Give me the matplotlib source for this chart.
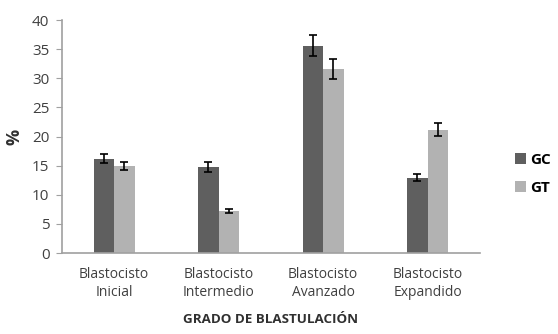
import matplotlib
matplotlib.use("Agg")
import matplotlib.pyplot as plt
import numpy as np

categories = ["Blastocisto\nInicial", "Blastocisto\nIntermedio", "Blastocisto\nAvanzado", "Blastocisto\nExpandido"]
gc_values = [16.2, 14.7, 35.6, 12.95]
gc_errors = [0.8, 0.85, 1.8, 0.6]
gt_values = [14.9, 7.2, 31.6, 21.2]
gt_errors = [0.7, 0.4, 1.65, 1.05]

plt.rcParams["font.family"] = ["Open Sans", "DejaVu Sans"]

fig = plt.figure(figsize=(5.58, 3.34), dpi=100)
ax = fig.add_axes([0.111, 0.2425, 0.749, 0.6975])

x = np.arange(len(categories))
width = 0.197
err_kw = dict(ecolor="black", elinewidth=1.2, capsize=3, capthick=1.2)
ax.bar(x - width / 2, gc_values, width, yerr=gc_errors, color="#5f5f5f", label="GC", error_kw=err_kw)
ax.bar(x + width / 2, gt_values, width, yerr=gt_errors, color="#b2b2b2", label="GT", error_kw=err_kw)

ax.set_xlim(-0.5, 3.5)
ax.set_ylim(0, 40)
ax.set_yticks(range(0, 41, 5))
ax.set_xticks(x)
ax.set_xticklabels(categories, fontsize=10, color="#404040", linespacing=1.3)
ax.tick_params(axis="y", labelsize=11, labelcolor="#404040", length=4, color="#a0a0a0", pad=5)
ax.tick_params(axis="x", length=0, pad=10)

for side in ("top", "right"):
    ax.spines[side].set_visible(False)
for side in ("left", "bottom"):
    ax.spines[side].set_color("#a0a0a0")
    ax.spines[side].set_linewidth(1.2)

ax.set_ylabel("%", fontsize=13, fontweight="bold", color="#303030", labelpad=6)
ax.set_xlabel("GRADO DE BLASTULACIÓN", fontsize=9.6, fontweight="bold", color="#303030", labelpad=9)

ax.legend(loc="center left", bbox_to_anchor=(1.05, 0.34), frameon=False,
          handlelength=0.75, handleheight=0.75, handletextpad=0.3, labelspacing=0.9,
          prop={"weight": "bold", "size": 11})

fig.savefig("out.png", dpi=100)
